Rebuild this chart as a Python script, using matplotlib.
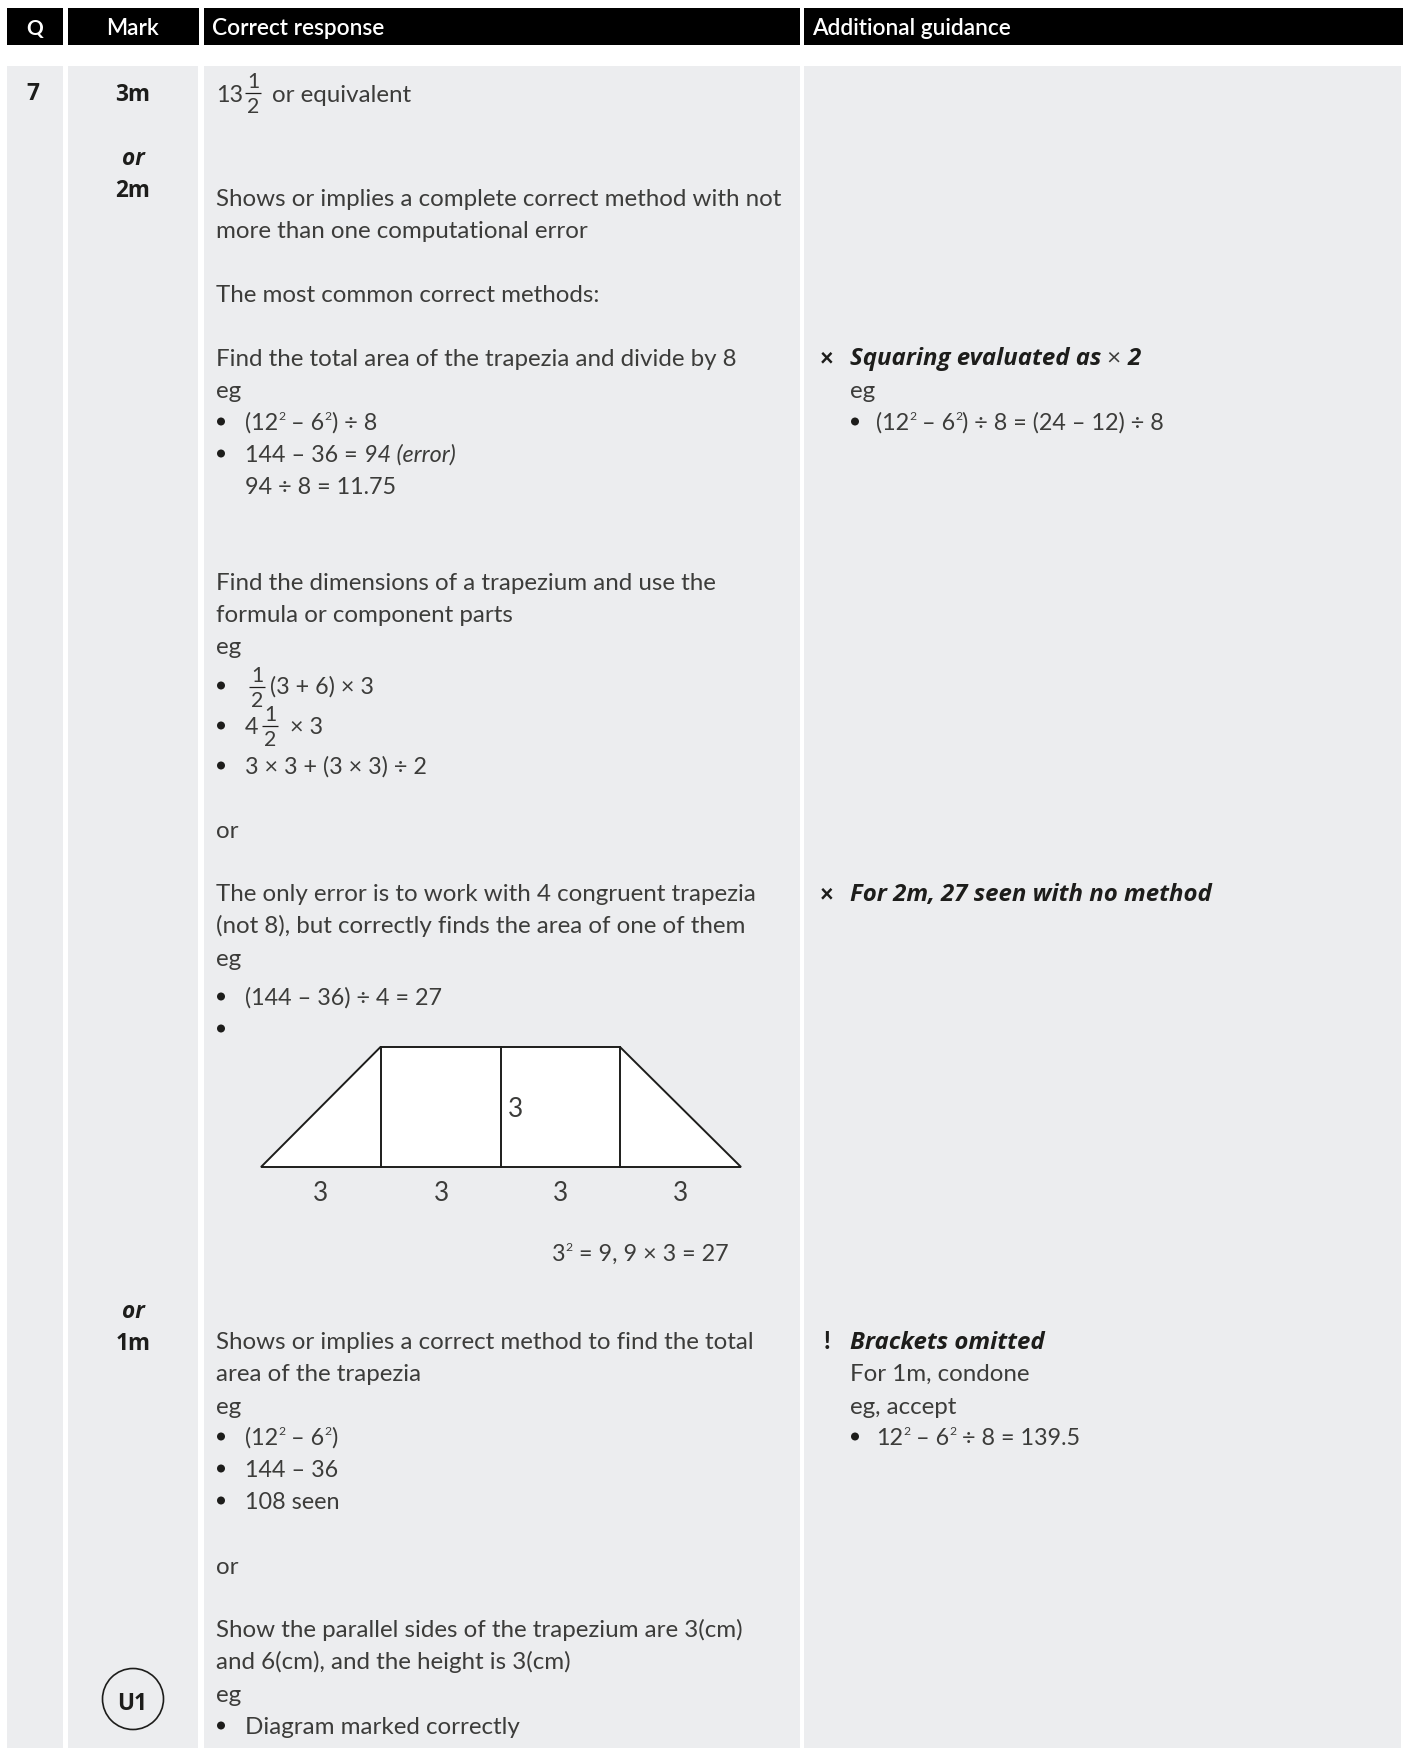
import re
import matplotlib
matplotlib.use("Agg")
import matplotlib.pyplot as plt
from matplotlib.patches import Rectangle, Circle, Polygon

FAMILY = ["Lato", "DejaVu Sans"]
HEAVY = ["Open Sans", "DejaVu Sans"]
BG = "#ECEDEF"
INK = "#1d1d1b"
TEXT = "#3c3c3a"

headers = [("Q", 35, "center", "bold"), ("Mark", 133, "center", "semibold"),
           ("Correct response", 212, "left", "semibold"), ("Additional guidance", 812, "left", "semibold")]
header_boxes = [(7, 63), (68, 199), (204, 800), (804, 1403)]
body_boxes = [(7, 63), (68, 198), (204, 800), (804, 1401)]

marks = [("7", 33, 100, "bold", "normal"), ("3m", 133, 101, "bold", "normal"),
         ("or", 133, 165, "bold", "italic"), ("2m", 133, 197, "bold", "normal"),
         ("or", 133, 1318, "bold", "italic"), ("1m", 133, 1350, "bold", "normal")]

response_lines = [
    (206, "Shows or implies a complete correct method with not"),
    (238, "more than one computational error"),
    (302, "The most common correct methods:"),
    (366, "Find the total area of the trapezia and divide by 8"),
    (398, "eg"),
    (590, "Find the dimensions of a trapezium and use the"),
    (622, "formula or component parts"),
    (654, "eg"),
    (838, "or"),
    (901, "The only error is to work with 4 congruent trapezia"),
    (933, "(not 8), but correctly finds the area of one of them"),
    (966, "eg"),
    (1349, "Shows or implies a correct method to find the total"),
    (1381, "area of the trapezia"),
    (1414, "eg"),
    (1574, "or"),
    (1637, "Show the parallel sides of the trapezium are 3(cm)"),
    (1669, "and 6(cm), and the height is 3(cm)"),
    (1702, "eg"),
]
response_bullets = [
    (430, "(12^2 – 6^2) ÷ 8"),
    (462, "144 – 36 = _94 (error)_"),
    (774, "3 × 3 + (3 × 3) ÷ 2"),
    (1005, "(144 – 36) ÷ 4 = 27"),
    (1445, "(12^2 – 6^2)"),
    (1477, "144 – 36"),
    (1509, "108 seen"),
    (1734, "Diagram marked correctly"),
]
response_extra = [(245, 494, "94 ÷ 8 = 11.75")]
empty_bullets = [694, 734, 1037]

guidance_heads = [(365, "×", "Squaring evaluated as", " × ", "2"),
                  (901, "×", "For 2m, 27 seen with no method", "", ""),
                  (1349, "!", "Brackets omitted", "", "")]
guidance_lines = [(398, "eg"), (1381, "For 1m, condone"), (1414, "eg, accept")]
guidance_bullets = [(430, "(12^2 – 6^2) ÷ 8 = (24 – 12) ÷ 8"),
                    (1445, "12^2 – 6^2 ÷ 8 = 139.5")]

trap_x = [261, 380.5, 501, 620, 741]
trap_top, trap_base = 1048, 1168
side_labels_x = [321, 442, 561, 681]

fig = plt.figure(figsize=(14.07, 17.49), dpi=100, facecolor="white")
ax = fig.add_axes([0, 0, 1, 1])
ax.set_xlim(0, 1407)
ax.set_ylim(1749, 0)
ax.axis("off")
renderer = fig.canvas.get_renderer()
SIZE = 17.4
MATH = 16.8


def width(s, family=FAMILY, **kw):
    a = ax.text(0, 0, "x" + s + "x", family=family, **kw)
    b = ax.text(0, 0, "xx", family=family, **kw)
    w = a.get_window_extent(renderer).width - b.get_window_extent(renderer).width
    a.remove()
    b.remove()
    return w


def rich(x, y, s, size=SIZE, weight="normal"):
    italic = False
    for tok in re.split(r"(\^.|_)", s):
        if not tok:
            continue
        if tok == "_":
            italic = not italic
            continue
        sup = tok[0] == "^"
        t = tok[1:] if sup else tok
        kw = dict(fontsize=size * (0.52 if sup else 1), fontweight=weight,
                  fontstyle="italic" if italic else "normal")
        ax.text(x, y - (size * 0.6 if sup else 0), t, color=TEXT, va="baseline",
                family=FAMILY, **kw)
        x += width(t, **kw)
    return x


def frac(cx, bar_y, half=8):
    ax.plot([cx - half, cx + half], [bar_y, bar_y], color=INK, lw=0.9, solid_capstyle="butt")
    for t, y in (("1", bar_y - 6), ("2", bar_y + 19)):
        ax.text(cx, y, t, ha="center", va="baseline", fontsize=SIZE * 0.88,
                color=TEXT, family=FAMILY)


def bullet(x, y):
    ax.add_patch(Circle((x, y - 7.5), 4, color=INK, lw=0))


for x0, x1 in header_boxes:
    ax.add_patch(Rectangle((x0, 9), x1 - x0, 37, color="black", lw=0))
for x0, x1 in body_boxes:
    ax.add_patch(Rectangle((x0, 67), x1 - x0, 1749 - 67, color=BG, lw=0))

for t, x, ha, w in headers:
    ax.text(x, 35, t, color="white", ha=ha, va="baseline",
            fontsize=15 if t == "Q" else 16.3, fontweight=w, family=FAMILY)
for t, x, y, w, st in marks:
    ax.text(x, y, t, color=INK, ha="center", va="baseline", fontsize=16.3,
            fontweight=w, fontstyle=st, family=HEAVY)

for y, s in response_lines:
    rich(216, y, s)
for y, s in response_bullets:
    bullet(221, y)
    rich(245, y, s, size=MATH if "Diagram" not in s else SIZE)
for x, y, s in response_extra:
    rich(x, y, s, size=MATH)
for y in empty_bullets:
    bullet(221, y)

rich(216, 102, "13", size=MATH)
frac(253, 94)
rich(272, 102, "or equivalent")
frac(257, 688)
rich(270, 694, "(3 + 6) × 3", size=MATH)
rich(245, 734, "4", size=MATH)
frac(270, 727)
rich(290, 734, "× 3", size=MATH)

HEAD = dict(fontsize=17.3, fontweight="bold", fontstyle="italic")
for y, m, a, b, c in guidance_heads:
    ax.text(827, y, m, ha="center", va="baseline", fontsize=17, fontweight="black",
            color=INK, family=FAMILY)
    ax.text(850, y, a, va="baseline", color=INK, family=HEAVY, **HEAD)
    if b:
        x = 850 + width(a, family=HEAVY, **HEAD)
        x = rich(x, y, b)
        ax.text(x, y, c, va="baseline", color=INK, family=HEAVY, **HEAD)
for y, s in guidance_lines:
    rich(850, y, s)
for y, s in guidance_bullets:
    bullet(855, y)
    rich(876, y, s, size=MATH)

ax.add_patch(Polygon([(trap_x[0], trap_base), (trap_x[1], trap_top), (trap_x[3], trap_top),
                      (trap_x[4], trap_base)], closed=True, fc="white", ec=INK, lw=1.4))
for x in trap_x[1:4]:
    ax.plot([x, x], [trap_top, trap_base], color=INK, lw=1.4)
for x in side_labels_x:
    ax.text(x, 1201, "3", ha="center", va="baseline", fontsize=SIZE * 1.08,
            color=TEXT, family=FAMILY)
ax.text(516, 1117, "3", ha="center", va="baseline", fontsize=SIZE * 1.08,
        color=TEXT, family=FAMILY)
rich(552, 1261, "3^2 = 9, 9 × 3 = 27", size=MATH)

ax.add_patch(Circle((133, 1700), 30.5, fc="none", ec=INK, lw=1.2))
ax.text(132, 1710, "U1", ha="center", va="baseline", fontsize=16.3, fontweight="bold",
        color=INK, family=HEAVY)

fig.savefig("out.png", dpi=100, facecolor="white")
